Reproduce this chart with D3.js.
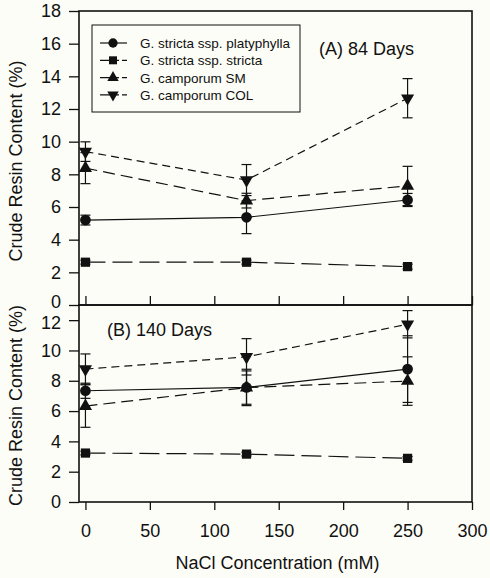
<!DOCTYPE html>
<html>
<head>
<meta charset="utf-8">
<script src="https://cdn.jsdelivr.net/npm/d3@7"></script>
<style>
  body { margin: 0; background: #fdfdf7; }
  svg text { font-family: "Liberation Sans", Arial, sans-serif; fill: #111; }
</style>
</head>
<body>
<script>
// NaCl concentrations (mM)
var conc = [0, 125, 250];
var seriesNames = ["G. stricta ssp. platyphylla", "G. stricta ssp. stricta", "G. camporum SM", "G. camporum COL"];

// (A) 84 days
var platA = [5.2, 5.37, 6.43],   platAErr = [0.3, 1.0, 0.4];
var strA  = [2.62, 2.62, 2.35],  strAErr  = [0.12, 0.12, 0.15];
var smA   = [8.38, 6.39, 7.29],  smAErr   = [0.95, 0.45, 1.2];
var colA  = [9.39, 7.65, 12.66], colAErr  = [0.6, 0.95, 1.2];

// (B) 140 days
var platB = [7.34, 7.56, 8.77],  platBErr = [0.5, 1.2, 2.2];
var strB  = [3.23, 3.16, 2.88],  strBErr  = [0.12, 0.12, 0.12];
var smB   = [6.33, 7.55, 7.98],  smBErr   = [1.4, 1.1, 1.6];
var colB  = [8.77, 9.58, 11.73], colBErr  = [1.0, 1.2, 0.9];

var xTicks = [0, 50, 100, 150, 200, 250, 300];
var yTicksA = [0, 2, 4, 6, 8, 10, 12, 14, 16, 18];
var yTicksB = [0, 2, 4, 6, 8, 10, 12];

var w = 490, h = 578;
var left = 79, right = 472, topA = 11, mid = 305, botB = 502;

var svg = d3.select("body").append("svg")
    .attr("width", w)
    .attr("height", h);

var x = d3.scaleLinear().domain([-5, 300]).range([left, right]);
var yA = d3.scaleLinear().domain([0, 18]).range([mid, topA]);
var yB = d3.scaleLinear().domain([0, 13]).range([botB, mid]);

// symbol, dash per series
var styles = [
    { sym: d3.symbolCircle, size: 90, rot: 0, dash: null },
    { sym: d3.symbolSquare, size: 85, rot: 0, dash: "20,7" },
    { sym: d3.symbolTriangle, size: 75, rot: 0, dash: "12,6" },
    { sym: d3.symbolTriangle, size: 75, rot: 180, dash: "8,5" }
];

function drawPanel(y, vals, errs) {
    var g = svg.append("g");
    vals.forEach(function(v, s) {
        var pts = conc.map(function(c, i){ return { x: c, y: v[i], e: errs[s][i] }; });
        // error bars
        pts.forEach(function(p){
            g.append("line")
                .attr("x1", x(p.x)).attr("x2", x(p.x))
                .attr("y1", y(p.y - p.e)).attr("y2", y(p.y + p.e))
                .attr("stroke", "#111").attr("stroke-width", 1.2);
            [p.y - p.e, p.y + p.e].forEach(function(yy){
                g.append("line")
                    .attr("x1", x(p.x) - 5).attr("x2", x(p.x) + 5)
                    .attr("y1", y(yy)).attr("y2", y(yy))
                    .attr("stroke", "#111").attr("stroke-width", 1.2);
            });
        });
        var line = d3.line().x(function(d){ return x(d.x); }).y(function(d){ return y(d.y); });
        g.append("path")
            .datum(pts)
            .attr("d", line)
            .attr("fill", "none")
            .attr("stroke", "#111")
            .attr("stroke-width", 1.2)
            .attr("stroke-dasharray", styles[s].dash);
        g.selectAll(".m" + s)
            .data(pts)
            .enter()
            .append("path")
            .attr("d", d3.symbol().type(styles[s].sym).size(styles[s].size))
            .attr("transform", function(d){
                return "translate(" + x(d.x) + "," + y(d.y) + ") rotate(" + styles[s].rot + ")";
            })
            .attr("fill", "#111");
    });
}

drawPanel(yA, [platA, strA, smA, colA], [platAErr, strAErr, smAErr, colAErr]);
drawPanel(yB, [platB, strB, smB, colB], [platBErr, strBErr, smBErr, colBErr]);

// axes
function styleAxis(g) {
    g.select(".domain").remove();
    g.selectAll("line").attr("stroke", "#111").attr("stroke-width", 1.3);
    g.selectAll("text").attr("font-size", "18px").attr("fill", "#111");
}

svg.append("g")
    .attr("transform", "translate(" + left + ",0)")
    .call(d3.axisLeft(yA).tickValues(yTicksA).tickSize(10).tickPadding(8))
    .call(styleAxis)
    .selectAll("text").filter(function(d){ return d === 0; })
    .attr("dy", "0.12em");  // keep clear of the "12" of panel B

svg.append("g")
    .attr("transform", "translate(" + left + ",0)")
    .call(d3.axisLeft(yB).tickValues(yTicksB).tickSize(10).tickPadding(8))
    .call(styleAxis)
    .selectAll("text").filter(function(d){ return d === 12; })
    .attr("dy", "0.45em");

// inward ticks at bottom of panel A
svg.append("g")
    .attr("transform", "translate(0," + mid + ")")
    .call(d3.axisBottom(x).tickValues(xTicks).tickSize(-9).tickFormat(""))
    .call(styleAxis);

svg.append("g")
    .attr("transform", "translate(0," + botB + ")")
    .call(d3.axisBottom(x).tickValues(xTicks).tickSize(8).tickPadding(14))
    .call(styleAxis);

// panel frames
[[topA, mid], [mid, botB]].forEach(function(r){
    svg.append("rect")
        .attr("x", left).attr("y", r[0])
        .attr("width", right - left).attr("height", r[1] - r[0])
        .attr("fill", "none")
        .attr("stroke", "#111")
        .attr("stroke-width", 1.6);
});

// panel labels
svg.append("text").attr("x", 319).attr("y", 55).attr("font-size", "18px").text("(A) 84 Days");
svg.append("text").attr("x", 107).attr("y", 336).attr("font-size", "18px").text("(B) 140 Days");

// axis titles
svg.append("text")
    .attr("x", (left + right) / 2 + 2).attr("y", 569)
    .attr("text-anchor", "middle").attr("font-size", "18px")
    .text("NaCl Concentration (mM)");

[[(topA + mid) / 2 + 3], [(mid + botB) / 2 + 2]].forEach(function(c){
    svg.append("text")
        .attr("transform", "translate(22," + c[0] + ") rotate(-90)")
        .attr("text-anchor", "middle").attr("font-size", "18px")
        .text("Crude Resin Content (%)");
});

// legend
var legend = svg.append("g");
legend.append("rect")
    .attr("x", 92).attr("y", 25).attr("width", 208).attr("height", 87)
    .attr("fill", "none").attr("stroke", "#111").attr("stroke-width", 1);
seriesNames.forEach(function(name, i){
    var ly = 43 + i * 17.3;
    legend.append("line")
        .attr("x1", 100).attr("x2", 127).attr("y1", ly).attr("y2", ly)
        .attr("stroke", "#111").attr("stroke-width", 1.2)
        .attr("stroke-dasharray", styles[i].dash ? "10,3,6,3" : null);
    legend.append("path")
        .attr("d", d3.symbol().type(styles[i].sym).size(styles[i].size * 0.75))
        .attr("transform", "translate(113," + ly + ") rotate(" + styles[i].rot + ")")
        .attr("fill", "#111");
    legend.append("text")
        .attr("x", 140).attr("y", ly + 5)
        .attr("font-size", "13.5px")
        .text(name);
});
</script>
</body>
</html>
